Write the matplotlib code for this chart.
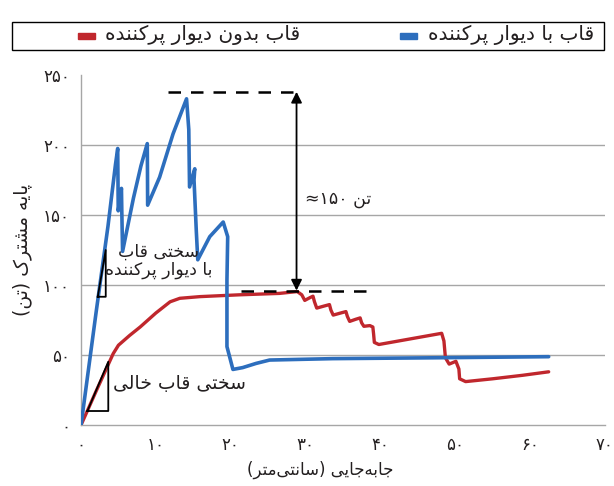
import matplotlib.pyplot as plt
from matplotlib.patches import Rectangle

plt.rcParams['font.family'] = ['DejaVu Sans']

# --- data (displacement cm, base shear ton) ---
infill_x = [0, 2.0, 3.6, 4.6, 4.9, 4.97, 5.4, 5.45, 5.55, 7.0, 8.0, 8.85, 8.88, 8.9,
            10.5, 12.3, 14.1, 14.4, 14.5, 15.2, 15.1, 15.4, 15.6, 17.2, 19.0, 19.6,
            19.5, 19.5, 20.3, 21.6, 23.4, 25.2, 33.6, 47.0, 62.5]
infill_y = [0, 80, 142, 186, 197.5, 153, 169, 152, 124, 162, 185, 201, 180, 157,
            177, 208, 233, 211, 170, 183, 175, 139, 118, 134.5, 145, 134.5,
            103.6, 56, 39.7, 41, 44, 46.4, 47.4, 48, 48.8]

bare_x = [0, 2, 4.3, 5.0, 6.5, 7.9, 10, 11.9, 13.2, 15.9, 21.2, 26.5, 28.9,
          29.5, 29.9, 30.6, 31.0, 31.2, 31.5, 32.5, 33.2, 33.4, 33.7, 34.7, 35.4,
          35.6, 35.9, 36.7, 37.3, 37.5, 37.8, 38.6, 39.0, 39.1, 39.2, 39.8, 44,
          48.2, 48.5, 48.7, 49.2, 50.1, 50.5, 50.6, 51.4, 55, 59, 62.5]
bare_y = [0, 24, 51, 57, 64, 70, 80, 88, 90.5, 91.7, 93, 94, 95.3,
          93, 89, 91, 92, 88, 83.5, 85, 86, 82, 78.5, 80, 81,
          77.5, 74, 75.5, 76.5, 73, 70.5, 71, 70, 65, 59, 57.5, 61.5,
          65.5, 60, 48, 43.5, 45.5, 40, 33, 31, 33, 35.5, 38]

x_ticks = [0, 10, 20, 30, 40, 50, 60, 70]
y_ticks = [0, 50, 100, 150, 200, 250]

# --- minimal Persian shaping (matplotlib has no RTL / joining support) ---
FORMS = {  # isolated, final, initial, medial
    'ا': ('\uFE8D', '\uFE8E'), 'د': ('\uFEA9', '\uFEAA'), 'ر': ('\uFEAD', '\uFEAE'),
    'و': ('\uFEED', '\uFEEE'),
    'ب': ('\uFE8F', '\uFE90', '\uFE91', '\uFE92'), 'ت': ('\uFE95', '\uFE96', '\uFE97', '\uFE98'),
    'ج': ('\uFE9D', '\uFE9E', '\uFE9F', '\uFEA0'), 'خ': ('\uFEA5', '\uFEA6', '\uFEA7', '\uFEA8'),
    'س': ('\uFEB1', '\uFEB2', '\uFEB3', '\uFEB4'), 'ش': ('\uFEB5', '\uFEB6', '\uFEB7', '\uFEB8'),
    'ق': ('\uFED5', '\uFED6', '\uFED7', '\uFED8'), 'ل': ('\uFEDD', '\uFEDE', '\uFEDF', '\uFEE0'),
    'م': ('\uFEE1', '\uFEE2', '\uFEE3', '\uFEE4'), 'ن': ('\uFEE5', '\uFEE6', '\uFEE7', '\uFEE8'),
    'ه': ('\uFEE9', '\uFEEA', '\uFEEB', '\uFEEC'), 'پ': ('\uFB56', '\uFB57', '\uFB58', '\uFB59'),
    'ک': ('\uFB8E', '\uFB8F', '\uFB90', '\uFB91'), 'ی': ('\uFBFC', '\uFBFD', '\uFBFE', '\uFBFF'),
}
DIGITS = '۰۱۲۳۴۵۶۷۸۹'


def fa(text):
    out = []
    for i, ch in enumerate(text):
        if ch not in FORMS:
            if ch != '\u200c':
                out.append(ch)
            continue
        prev = text[i - 1] if i > 0 else ''
        nxt = text[i + 1] if i + 1 < len(text) else ''
        joins_prev = prev in FORMS and len(FORMS[prev]) == 4
        joins_next = len(FORMS[ch]) == 4 and nxt in FORMS
        f = FORMS[ch]
        if joins_prev and joins_next:
            out.append(f[3])
        elif joins_prev:
            out.append(f[1])
        elif joins_next:
            out.append(f[2])
        else:
            out.append(f[0])
    vis = ''.join(out)[::-1]
    vis = vis.translate(str.maketrans('()', ')('))
    # keep digit runs left-to-right
    res, run = '', ''
    for ch in vis:
        if ch in DIGITS:
            run += ch
        else:
            res += run[::-1] + ch
            run = ''
    return res + run[::-1]


def fa_num(n):
    return ''.join(DIGITS[int(d)] for d in str(n))


blue = '#2d6ebd'
red = '#c0272d'
txt = '#231f20'

fig = plt.figure(figsize=(6.14, 4.86), dpi=100)
ax = fig.add_axes([0.132, 0.1255, 0.853, 0.7202])

for yv in y_ticks[1:-1]:
    ax.axhline(yv, color='#a6a6a6', lw=1.0, zorder=1)

ax.plot(bare_x, bare_y, color=red, lw=2.4, solid_joinstyle='round',
        solid_capstyle='round', zorder=3)
ax.plot(infill_x, infill_y, color=blue, lw=2.6, solid_joinstyle='round',
        solid_capstyle='round', zorder=4)

# stiffness triangles
ax.plot([2.23, 3.3, 3.3, 2.23], [91.6, 91.6, 125, 91.6], color='black', lw=1.3, zorder=5)
ax.plot([0.85, 3.64, 3.64, 0.85], [10, 10, 45.2, 10], color='black', lw=1.3, zorder=5)

# dashed reference levels and double arrow
ax.plot([11.6, 29.6], [238, 238], color='black', lw=1.8, dashes=(5, 4), zorder=5)
ax.plot([21.4, 39.4], [96, 96], color='black', lw=1.8, dashes=(5, 4), zorder=5)
ax.annotate('', xy=(28.8, 238), xytext=(28.8, 96),
            arrowprops=dict(arrowstyle='<|-|>', color='black', lw=1.3,
                            mutation_scale=16, shrinkA=0, shrinkB=0), zorder=6)

ax.text(10.4, 117, fa('سختی قاب') + '\n' + fa('با دیوار پرکننده'), ha='center', va='center',
        fontsize=12.5, color=txt, linespacing=1.0, zorder=7)
ax.text(13.2, 30, fa('سختی قاب خالی'), ha='center', va='center', fontsize=13.5, color=txt, zorder=7)
ax.text(34.3, 161.5, fa('تن ۱۵۰≈'), ha='center', va='center', fontsize=12.5, color=txt, zorder=7)

ax.set_xlim(0, 70)
ax.set_ylim(0, 250)
ax.set_xticks(x_ticks)
ax.set_xticklabels([fa_num(v) for v in x_ticks], fontsize=12, color=txt)
ax.set_yticks(y_ticks)
ax.set_yticklabels([fa_num(v) for v in y_ticks], fontsize=12, color=txt)
ax.tick_params(length=0, pad=8)
for s in ['top', 'right']:
    ax.spines[s].set_visible(False)
for s in ['left', 'bottom']:
    ax.spines[s].set_color('#a6a6a6')
    ax.spines[s].set_linewidth(1.0)

fig.text(320 / 614, 1 - 470 / 486, fa('جابه‌جایی (سانتی‌متر)'), ha='center', va='center',
         fontsize=12, color=txt)
fig.text(22 / 614, 1 - 250 / 486, fa('پایه مشترک (تن)'), ha='center', va='center',
         rotation=90, fontsize=13.5, color=txt)

# legend box
fig.patches.append(Rectangle((12 / 614, 1 - 50 / 486), 592 / 614, 28 / 486,
                             transform=fig.transFigure, fill=False, edgecolor='black', lw=1.0))
fig.patches.append(Rectangle((400 / 614, 1 - 38.5 / 486), 17 / 614, 5 / 486,
                             transform=fig.transFigure, color=blue))
fig.patches.append(Rectangle((78 / 614, 1 - 38.5 / 486), 17 / 614, 5 / 486,
                             transform=fig.transFigure, color=red))
fig.text(594 / 614, 1 - 35 / 486, fa('قاب با دیوار پرکننده'), ha='right', va='center',
         fontsize=14.5, color=txt)
fig.text(300 / 614, 1 - 35 / 486, fa('قاب بدون دیوار پرکننده'), ha='right', va='center',
         fontsize=14.5, color=txt)

plt.savefig('out.png', dpi=100)
